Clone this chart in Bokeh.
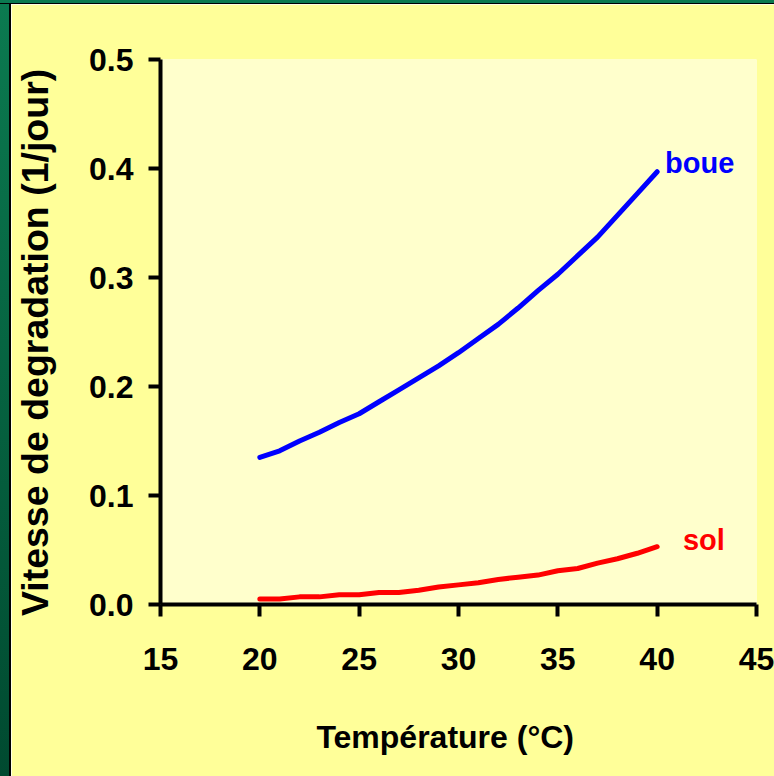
from bokeh.plotting import figure
from bokeh.models import Range1d, FixedTicker, Label, NumeralTickFormatter, Div
from bokeh.layouts import column, row
from bokeh.embed import file_html
from bokeh.resources import INLINE

# ---- data ----
temperature = [20, 21, 22, 23, 24, 25, 26, 27, 28, 29, 30, 31, 32, 33, 34, 35, 36, 37, 38, 39, 40]
boue = [0.135, 0.141, 0.150, 0.158, 0.167, 0.175, 0.186, 0.197, 0.208, 0.219, 0.231,
        0.244, 0.257, 0.272, 0.288, 0.303, 0.320, 0.337, 0.357, 0.377, 0.397]
sol = [0.005, 0.005, 0.007, 0.007, 0.009, 0.009, 0.011, 0.011, 0.013, 0.016, 0.018,
       0.020, 0.023, 0.025, 0.027, 0.031, 0.033, 0.038, 0.042, 0.047, 0.053]
x_ticks = [15, 20, 25, 30, 35, 40, 45]
y_ticks = [0.0, 0.1, 0.2, 0.3, 0.4, 0.5]
series_names = ["boue", "sol"]
x_title = "Température (°C)"
y_title = "Vitesse de degradation (1/jour)"

BG = "#FFFF99"
PLOT_BG = "#FFFFCC"
FONT = "Liberation Sans"
NBSP = "\u00a0"

p = figure(width=763, height=772, output_backend="svg", toolbar_location=None,
           x_range=Range1d(15, 45), y_range=Range1d(0, 0.5),
           background_fill_color=PLOT_BG, border_fill_color=BG,
           min_border_left=149, min_border_right=18, min_border_top=55, min_border_bottom=172)
p.outline_line_color = None
p.grid.visible = False

p.line(temperature, boue, line_color="#0000FF", line_width=5, line_cap="round")
p.line(temperature, sol, line_color="#FF0000", line_width=5, line_cap="round")

for ax in (p.xaxis[0], p.yaxis[0]):
    ax.axis_line_color = "black"
    ax.axis_line_width = 4
    ax.major_tick_line_color = "black"
    ax.major_tick_line_width = 4
    ax.major_tick_in = 0
    ax.major_tick_out = 12
    ax.minor_tick_line_color = None
    ax.major_label_text_font = FONT
    ax.major_label_text_font_style = "bold"
    ax.major_label_text_font_size = "32px"
    ax.major_label_text_color = "black"
    ax.axis_label_text_font = FONT
    ax.axis_label_text_font_style = "bold"
    ax.axis_label_text_color = "black"

p.xaxis[0].ticker = FixedTicker(ticks=x_ticks)
p.yaxis[0].ticker = FixedTicker(ticks=y_ticks)
p.yaxis[0].formatter = NumeralTickFormatter(format="0.0")
p.xaxis[0].major_label_standoff = 31
p.yaxis[0].major_label_standoff = 15

# axis titles (non-breaking spaces nudge the centred title like the original)
p.xaxis[0].axis_label = x_title + NBSP * 3
p.xaxis[0].axis_label_text_font_size = "32px"
p.xaxis[0].axis_label_standoff = 46
p.yaxis[0].axis_label = y_title + NBSP * 2
p.yaxis[0].axis_label_text_font_size = "37.5px"
p.yaxis[0].axis_label_standoff = 30

# series labels
p.add_layout(Label(x=40.4, y=0.405, text=series_names[0], text_color="#0000FF",
                   text_font=FONT, text_font_style="bold", text_font_size="29px",
                   text_baseline="middle", text_align="left"))
p.add_layout(Label(x=41.3, y=0.059, text=series_names[1], text_color="#FF0000",
                   text_font=FONT, text_font_style="bold", text_font_size="29px",
                   text_baseline="middle", text_align="left"))

top_bar = Div(width=774, height=4, margin=0,
              styles={"background": "linear-gradient(to bottom, #0B7A50 0px, #0B7A50 3px, #000000 3px, #000000 4px)"})
left_bar = Div(width=11, height=772, margin=0,
               styles={"background": "linear-gradient(to right, rgba(0,0,0,0) 9px, #000000 9px), "
                                     "linear-gradient(to bottom, #0B7A50, #004A30)"})

layout = column(top_bar, row(left_bar, p, spacing=0), spacing=0)

open("out.html", "w").write(file_html(layout, INLINE))
